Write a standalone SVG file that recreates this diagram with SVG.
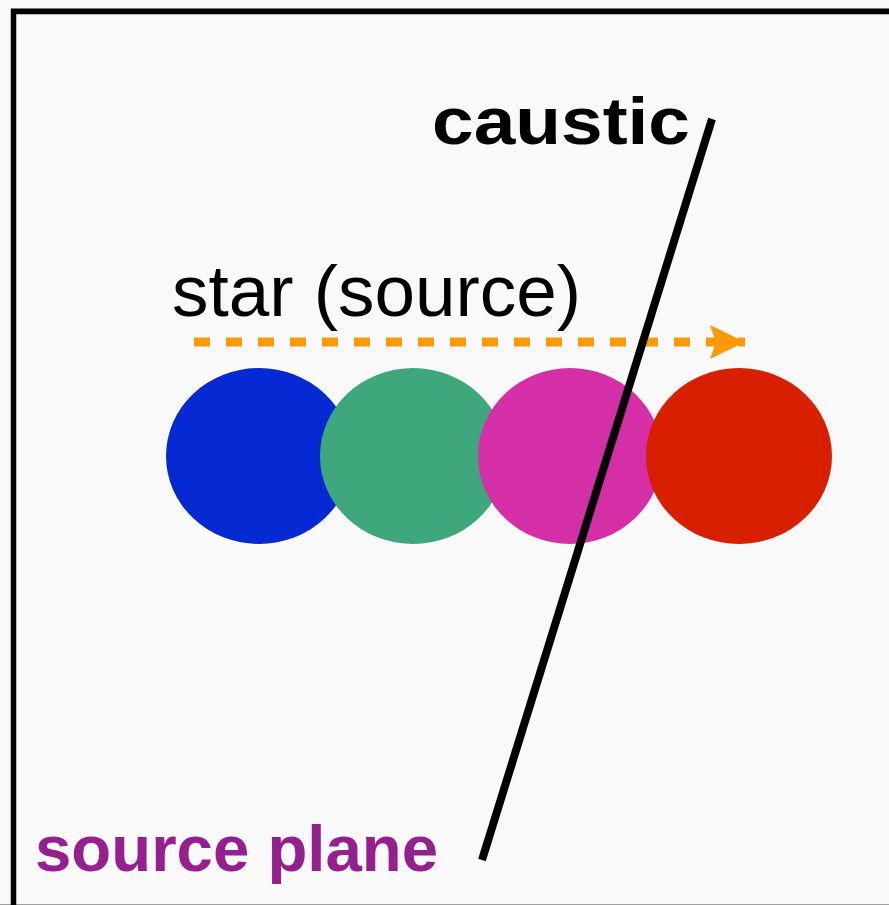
<svg xmlns="http://www.w3.org/2000/svg" width="889" height="905" viewBox="0 0 889 905">
  <style>
    .lbl { font-family: "Liberation Sans", Arial, sans-serif; }
    .bold { font-weight: bold; }
  </style>
  <defs>
    <marker id="arrow" markerWidth="40" markerHeight="40" refX="35" refY="17" orient="auto" markerUnits="userSpaceOnUse">
      <path d="M0,0 L35,17 L0,34 L6,17 Z" fill="#fb9a06"/>
    </marker>
  </defs>
  <rect x="0" y="0" width="889" height="905" fill="#f9f9f9"/>
  <line x1="11" y1="8.5" x2="889" y2="8.5" stroke="#a0a0a0" stroke-width="1"/>
  <line x1="0" y1="904.5" x2="889" y2="904.5" stroke="#a0a0a0" stroke-width="1"/>
  <rect id="frame" x="13.5" y="11.5" width="900" height="920" fill="none" stroke="#000" stroke-width="5.5"/>

  <g id="star-blue"><ellipse cx="259" cy="456" rx="93" ry="88" fill="#0529d3"/></g>
  <g id="star-green"><ellipse cx="413" cy="456" rx="93" ry="88" fill="#3fa77c"/></g>
  <g id="star-magenta"><ellipse cx="570" cy="456" rx="92" ry="88" fill="#d52fa8"/></g>
  <g id="star-red"><ellipse cx="739" cy="456" rx="93" ry="88" fill="#d81f00"/></g>

  <g id="connectors">
    <line x1="194" y1="342" x2="745" y2="342" stroke="#fb9a06" stroke-width="9" stroke-dasharray="16 16" marker-end="url(#arrow)"/>
    <line x1="712" y1="119" x2="482" y2="860" stroke="#000" stroke-width="8"/>
  </g>

  <g id="label-caustic"><text class="lbl bold" x="432" y="144" font-size="66" textLength="258" lengthAdjust="spacingAndGlyphs" fill="#000">caustic</text></g>
  <g id="label-star"><text class="lbl" x="172" y="316" font-size="72" textLength="409" lengthAdjust="spacingAndGlyphs" fill="#000">star (source)</text></g>
  <g id="label-plane"><text class="lbl bold" x="35" y="871" font-size="65" textLength="403" lengthAdjust="spacingAndGlyphs" fill="#951f8e">source plane</text></g>
</svg>
